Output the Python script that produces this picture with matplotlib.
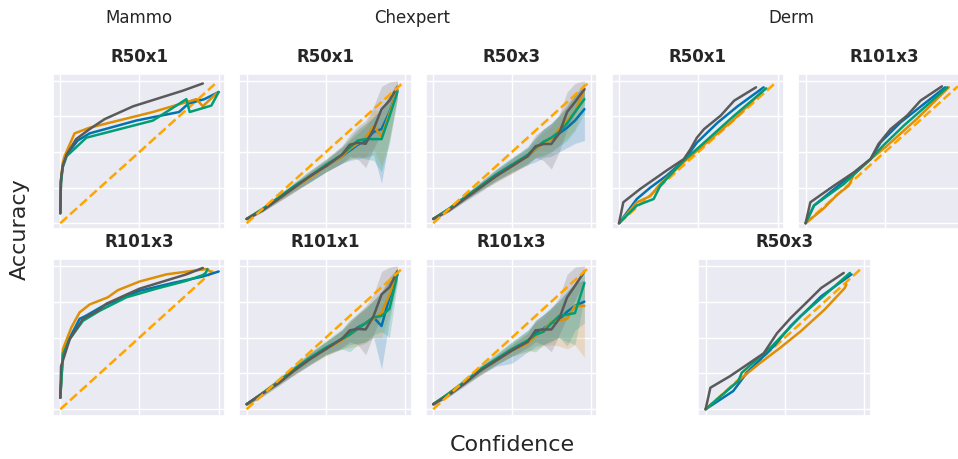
import matplotlib
matplotlib.use("Agg")
import matplotlib.pyplot as plt
import seaborn as sns

sns.set_theme(style="darkgrid")
plt.rcParams['font.family'] = ['DejaVu Sans']

# ---------------- colours ----------------
C_BLUE, C_ORANGE, C_GREEN, C_GRAY = "#0173b2", "#de8f05", "#029e73", "#5a5a5a"
C_DIAG = "#ffa500"

group_labels = ["Mammo", "Chexpert", "Derm"]

# ---------------- Mammo R50x1 ----------------
m1_gray_x = [0.0, 0.004, 0.015, 0.04, 0.10, 0.185, 0.28, 0.46, 0.775, 0.90]
m1_gray_y = [0.07, 0.30, 0.40, 0.48, 0.59, 0.66, 0.73, 0.82, 0.93, 0.98]
m1_orange_x = [0.0, 0.004, 0.015, 0.027, 0.09, 0.185, 0.585, 0.86, 0.90, 0.985]
m1_orange_y = [0.07, 0.30, 0.42, 0.47, 0.63, 0.67, 0.78, 0.87, 0.82, 0.91]
m1_blue_x = [0.0, 0.004, 0.015, 0.04, 0.11, 0.185, 0.48, 0.75, 0.81, 0.91, 1.0]
m1_blue_y = [0.07, 0.29, 0.40, 0.48, 0.58, 0.63, 0.72, 0.78, 0.84, 0.87, 0.92]
m1_green_x = [0.0, 0.004, 0.015, 0.04, 0.165, 0.585, 0.796, 0.817, 0.954, 1.0]
m1_green_y = [0.07, 0.28, 0.39, 0.47, 0.60, 0.72, 0.87, 0.78, 0.825, 0.92]
m1_diag = [0.0, 0.975]

# ---------------- Mammo R101x3 ----------------
m2_gray_x = [0.0, 0.005, 0.06, 0.143, 0.238, 0.29, 0.5, 0.796, 0.90]
m2_gray_y = [0.08, 0.30, 0.49, 0.63, 0.686, 0.735, 0.84, 0.94, 0.985]
m2_orange_x = [0.0, 0.017, 0.07, 0.122, 0.185, 0.30, 0.364, 0.5, 0.67, 0.84, 0.92, 0.95]
m2_orange_y = [0.08, 0.42, 0.57, 0.675, 0.73, 0.78, 0.83, 0.89, 0.94, 0.965, 0.977, 0.96]
m2_blue_x = [0.0, 0.017, 0.07, 0.122, 0.16, 0.27, 0.5, 0.71, 0.90, 1.0]
m2_blue_y = [0.08, 0.40, 0.52, 0.63, 0.65, 0.72, 0.825, 0.88, 0.925, 0.96]
m2_green_x = [0.0, 0.017, 0.06, 0.143, 0.248, 0.417, 0.606, 0.796, 0.90, 0.918, 0.93]
m2_green_y = [0.08, 0.38, 0.49, 0.616, 0.686, 0.78, 0.84, 0.895, 0.935, 0.95, 0.977]
m2_diag = [0.0, 0.965]

# ---------------- Chexpert R50x1 ----------------
c1_x = [0.0, 0.1, 0.2, 0.3, 0.4, 0.5, 0.6, 0.65, 0.7, 0.75, 0.8, 0.85, 0.9, 0.95]
c1_blue = [0.03, 0.09, 0.17, 0.25, 0.33, 0.40, 0.47, 0.51, 0.55, 0.58, 0.64, 0.66, 0.78, 0.93]
c1_orange = [0.03, 0.10, 0.17, 0.25, 0.32, 0.40, 0.47, 0.52, 0.56, 0.60, 0.68, 0.61, 0.77, 0.94]
c1_green = [0.03, 0.10, 0.18, 0.26, 0.33, 0.41, 0.48, 0.53, 0.58, 0.59, 0.59, 0.59, 0.75, 0.92]
c1_gray = [0.03, 0.09, 0.17, 0.25, 0.33, 0.40, 0.48, 0.55, 0.565, 0.557, 0.66, 0.80, 0.86, 0.955]
c1_blue_lo = [0.02, 0.08, 0.15, 0.22, 0.29, 0.36, 0.42, 0.44, 0.45, 0.46, 0.48, 0.28, 0.60, 0.88]
c1_blue_hi = [0.04, 0.11, 0.19, 0.28, 0.36, 0.44, 0.53, 0.58, 0.63, 0.68, 0.75, 0.80, 0.90, 0.98]
c1_orange_lo = [0.02, 0.08, 0.15, 0.22, 0.29, 0.36, 0.42, 0.45, 0.46, 0.47, 0.52, 0.40, 0.58, 0.88]
c1_orange_hi = [0.04, 0.11, 0.19, 0.28, 0.36, 0.44, 0.53, 0.59, 0.65, 0.70, 0.80, 0.78, 0.90, 0.99]
c1_green_lo = [0.02, 0.09, 0.16, 0.23, 0.29, 0.36, 0.42, 0.45, 0.47, 0.45, 0.44, 0.36, 0.56, 0.87]
c1_green_hi = [0.04, 0.11, 0.20, 0.29, 0.37, 0.45, 0.54, 0.60, 0.66, 0.70, 0.74, 0.80, 0.90, 0.97]
c1_gray_lo = [0.02, 0.08, 0.15, 0.22, 0.29, 0.36, 0.42, 0.47, 0.45, 0.39, 0.52, 0.64, 0.74, 0.91]
c1_gray_hi = [0.04, 0.11, 0.19, 0.28, 0.37, 0.45, 0.54, 0.62, 0.68, 0.72, 0.82, 0.96, 0.99, 1.00]
c1_diag = [0.0, 0.975]

# ---------------- Chexpert R50x3 ----------------
c2_x = [0.0, 0.1, 0.2, 0.3, 0.4, 0.5, 0.6, 0.65, 0.7, 0.75, 0.8, 0.85, 0.9, 0.96]
c2_blue = [0.03, 0.10, 0.18, 0.26, 0.34, 0.41, 0.47, 0.52, 0.57, 0.59, 0.63, 0.67, 0.72, 0.80]
c2_orange = [0.03, 0.10, 0.18, 0.26, 0.33, 0.40, 0.47, 0.52, 0.56, 0.59, 0.66, 0.72, 0.78, 0.94]
c2_green = [0.03, 0.10, 0.18, 0.26, 0.34, 0.41, 0.48, 0.53, 0.57, 0.60, 0.64, 0.70, 0.78, 0.87]
c2_gray = [0.03, 0.09, 0.17, 0.25, 0.33, 0.40, 0.47, 0.54, 0.555, 0.556, 0.63, 0.78, 0.85, 0.94]
c2_blue_lo = [0.02, 0.08, 0.16, 0.23, 0.30, 0.36, 0.41, 0.43, 0.46, 0.47, 0.50, 0.53, 0.56, 0.58]
c2_blue_hi = [0.04, 0.12, 0.20, 0.29, 0.38, 0.46, 0.53, 0.60, 0.66, 0.70, 0.76, 0.82, 0.90, 0.98]
c2_orange_lo = [0.02, 0.08, 0.16, 0.23, 0.29, 0.35, 0.42, 0.46, 0.48, 0.50, 0.55, 0.60, 0.66, 0.85]
c2_orange_hi = [0.04, 0.12, 0.20, 0.29, 0.37, 0.45, 0.52, 0.58, 0.64, 0.68, 0.76, 0.84, 0.90, 0.99]
c2_green_lo = [0.02, 0.09, 0.16, 0.23, 0.30, 0.36, 0.42, 0.46, 0.47, 0.50, 0.54, 0.58, 0.65, 0.77]
c2_green_hi = [0.04, 0.12, 0.20, 0.29, 0.38, 0.46, 0.54, 0.60, 0.66, 0.70, 0.75, 0.82, 0.90, 0.96]
c2_gray_lo = [0.02, 0.08, 0.15, 0.22, 0.29, 0.35, 0.41, 0.46, 0.44, 0.38, 0.50, 0.66, 0.76, 0.88]
c2_gray_hi = [0.04, 0.11, 0.19, 0.28, 0.37, 0.45, 0.53, 0.62, 0.66, 0.70, 0.76, 0.92, 0.98, 1.00]
c2_diag = [0.0, 0.99]

# ---------------- Chexpert R101x1 ----------------
c3_x = [0.0, 0.1, 0.2, 0.3, 0.4, 0.5, 0.6, 0.65, 0.7, 0.75, 0.8, 0.85, 0.9, 0.95]
c3_blue = [0.035, 0.11, 0.19, 0.27, 0.35, 0.42, 0.49, 0.53, 0.57, 0.60, 0.64, 0.58, 0.78, 0.94]
c3_orange = [0.035, 0.11, 0.19, 0.27, 0.35, 0.42, 0.48, 0.52, 0.56, 0.60, 0.63, 0.67, 0.80, 0.95]
c3_green = [0.035, 0.11, 0.19, 0.28, 0.36, 0.43, 0.49, 0.52, 0.56, 0.60, 0.64, 0.65, 0.70, 0.94]
c3_gray = [0.035, 0.11, 0.18, 0.27, 0.35, 0.42, 0.49, 0.55, 0.56, 0.556, 0.65, 0.80, 0.85, 0.96]
c3_blue_lo = [0.025, 0.09, 0.17, 0.24, 0.31, 0.38, 0.42, 0.45, 0.46, 0.47, 0.50, 0.28, 0.62, 0.90]
c3_blue_hi = [0.045, 0.13, 0.21, 0.30, 0.39, 0.47, 0.55, 0.60, 0.66, 0.70, 0.76, 0.82, 0.92, 0.98]
c3_orange_lo = [0.025, 0.09, 0.17, 0.24, 0.31, 0.37, 0.42, 0.43, 0.44, 0.46, 0.50, 0.50, 0.66, 0.90]
c3_orange_hi = [0.045, 0.13, 0.21, 0.30, 0.39, 0.47, 0.55, 0.61, 0.66, 0.71, 0.76, 0.82, 0.92, 0.99]
c3_green_lo = [0.025, 0.10, 0.17, 0.25, 0.32, 0.38, 0.42, 0.40, 0.45, 0.47, 0.52, 0.54, 0.50, 0.88]
c3_green_hi = [0.045, 0.13, 0.22, 0.31, 0.40, 0.48, 0.56, 0.62, 0.66, 0.71, 0.76, 0.80, 0.90, 0.98]
c3_gray_lo = [0.025, 0.09, 0.16, 0.24, 0.31, 0.38, 0.43, 0.47, 0.45, 0.38, 0.52, 0.66, 0.76, 0.92]
c3_gray_hi = [0.045, 0.13, 0.21, 0.30, 0.39, 0.47, 0.55, 0.62, 0.67, 0.72, 0.80, 0.96, 0.99, 1.00]
c3_diag = [0.0, 0.975]

# ---------------- Chexpert R101x3 ----------------
c4_x = [0.0, 0.1, 0.2, 0.3, 0.4, 0.5, 0.6, 0.65, 0.7, 0.75, 0.8, 0.85, 0.9, 0.96]
c4_blue = [0.035, 0.11, 0.19, 0.27, 0.34, 0.41, 0.47, 0.53, 0.56, 0.60, 0.625, 0.68, 0.72, 0.75]
c4_orange = [0.035, 0.11, 0.19, 0.27, 0.34, 0.41, 0.46, 0.51, 0.55, 0.61, 0.62, 0.63, 0.72, 0.72]
c4_green = [0.035, 0.11, 0.19, 0.28, 0.35, 0.42, 0.48, 0.52, 0.54, 0.60, 0.65, 0.66, 0.67, 0.88]
c4_gray = [0.035, 0.10, 0.18, 0.27, 0.34, 0.41, 0.47, 0.55, 0.556, 0.556, 0.63, 0.78, 0.86, 0.96]
c4_blue_lo = [0.025, 0.09, 0.17, 0.24, 0.30, 0.32, 0.40, 0.44, 0.45, 0.47, 0.50, 0.44, 0.55, 0.60]
c4_blue_hi = [0.045, 0.13, 0.21, 0.30, 0.38, 0.47, 0.55, 0.61, 0.66, 0.71, 0.76, 0.82, 0.88, 0.90]
c4_orange_lo = [0.025, 0.09, 0.17, 0.24, 0.31, 0.37, 0.40, 0.42, 0.44, 0.45, 0.44, 0.42, 0.45, 0.36]
c4_orange_hi = [0.045, 0.13, 0.21, 0.30, 0.38, 0.46, 0.54, 0.60, 0.64, 0.70, 0.74, 0.80, 0.88, 0.90]
c4_green_lo = [0.025, 0.09, 0.17, 0.25, 0.31, 0.37, 0.41, 0.40, 0.45, 0.48, 0.50, 0.47, 0.45, 0.78]
c4_green_hi = [0.045, 0.13, 0.22, 0.31, 0.39, 0.47, 0.55, 0.62, 0.66, 0.71, 0.76, 0.82, 0.88, 0.96]
c4_gray_lo = [0.025, 0.09, 0.16, 0.24, 0.31, 0.37, 0.43, 0.47, 0.45, 0.40, 0.52, 0.64, 0.76, 0.90]
c4_gray_hi = [0.045, 0.12, 0.20, 0.29, 0.37, 0.45, 0.53, 0.62, 0.66, 0.70, 0.78, 0.94, 0.99, 1.00]
c4_diag = [0.0, 0.99]

# ---------------- Derm R50x1 ----------------
d1_gray_x = [0, 0.027, 0.133, 0.30, 0.408, 0.45, 0.49, 0.535, 0.64, 0.725, 0.862]
d1_gray_y = [0, 0.147, 0.24, 0.37, 0.45, 0.52, 0.60, 0.66, 0.755, 0.86, 0.953]
d1_blue_x = [0, 0.112, 0.197, 0.30, 0.408, 0.49, 0.62, 0.746, 0.91]
d1_blue_y = [0, 0.17, 0.25, 0.334, 0.44, 0.565, 0.705, 0.82, 0.953]
d1_green_x = [0, 0.112, 0.218, 0.26, 0.408, 0.514, 0.725, 0.926]
d1_green_y = [0, 0.124, 0.17, 0.264, 0.44, 0.544, 0.755, 0.946]
d1_orange_x = [0, 0.112, 0.197, 0.25, 0.408, 0.514, 0.725, 0.915]
d1_orange_y = [0, 0.147, 0.19, 0.264, 0.43, 0.53, 0.73, 0.94]
d1_diag = [0.0, 0.983]

# ---------------- Derm R101x3 ----------------
d2_gray_x = [0, 0.03, 0.18, 0.305, 0.41, 0.46, 0.536, 0.64, 0.725, 0.86]
d2_gray_y = [0, 0.147, 0.264, 0.357, 0.45, 0.556, 0.66, 0.755, 0.86, 0.96]
d2_blue_x = [0, 0.053, 0.284, 0.41, 0.473, 0.6, 0.746, 0.88]
d2_blue_y = [0, 0.124, 0.334, 0.45, 0.567, 0.708, 0.836, 0.953]
d2_green_x = [0, 0.053, 0.242, 0.41, 0.494, 0.62, 0.893]
d2_green_y = [0, 0.124, 0.276, 0.45, 0.55, 0.685, 0.953]
d2_orange_x = [0, 0.11, 0.2, 0.273, 0.305, 0.41, 0.5, 0.7, 0.903]
d2_orange_y = [0, 0.10, 0.2, 0.264, 0.346, 0.45, 0.53, 0.73, 0.953]
d2_diag = [0.0, 0.96]

# ---------------- Derm R50x3 ----------------
d3_gray_x = [0, 0.03, 0.153, 0.26, 0.366, 0.45, 0.536, 0.632, 0.728, 0.87]
d3_gray_y = [0, 0.15, 0.23, 0.31, 0.39, 0.53, 0.636, 0.74, 0.845, 0.95]
d3_blue_x = [0, 0.174, 0.26, 0.43, 0.536, 0.728, 0.919]
d3_blue_y = [0, 0.127, 0.255, 0.44, 0.58, 0.787, 0.94]
d3_green_x = [0, 0.206, 0.228, 0.41, 0.6, 0.909]
d3_green_y = [0, 0.197, 0.255, 0.43, 0.65, 0.95]
d3_orange_x = [0, 0.217, 0.345, 0.472, 0.6, 0.749, 0.877, 0.887]
d3_orange_y = [0, 0.21, 0.324, 0.43, 0.544, 0.694, 0.845, 0.87]
d3_diag = [0.0, 0.99]

# ---------------- figure ----------------
W, H = 958, 460
fig = plt.figure(figsize=(W / 100, H / 100), dpi=100)


def add_ax(l, t, r, b, ylim):
    ax = fig.add_axes([l / W, 1 - b / H, (r - l) / W, (b - t) / H])
    ax.set_xlim(-0.046, 1.04)
    ax.set_ylim(*ylim)
    ax.set_xticks([0, 0.5, 1.0])
    ax.set_yticks([0, 0.25, 0.5, 0.75, 1.0])
    ax.set_xticklabels([])
    ax.set_yticklabels([])
    ax.tick_params(length=0)
    return ax


TOP = (74.5, 229.5)
BOT = (260, 417)
YL_TOP = (-0.037, 1.05)
YL_BOT = (-0.047, 1.047)
LW = 1.8


def title(ax, s):
    ax.set_title(s, fontsize=12, fontweight="bold", pad=9)


def simple_panel(ax, series, diag):
    ax.plot(diag, diag, color=C_DIAG, ls="--", lw=LW, zorder=3)
    for xs, ys, c in series:
        ax.plot(xs, ys, color=c, lw=LW, zorder=4)


def band_panel(ax, x, series, diag):
    for ys, lo, hi, c in series:
        ax.fill_between(x, lo, hi, color=c, alpha=0.2, lw=0, zorder=2)
    for ys, lo, hi, c in series:
        ax.plot(x, ys, color=c, lw=LW, zorder=4)
    ax.plot(diag, diag, color=C_DIAG, ls="--", lw=LW, zorder=5)


# Mammo R50x1
ax = add_ax(53, TOP[0], 225, TOP[1], YL_TOP)
title(ax, "R50x1")
simple_panel(ax, [(m1_blue_x, m1_blue_y, C_BLUE), (m1_orange_x, m1_orange_y, C_ORANGE),
                  (m1_green_x, m1_green_y, C_GREEN), (m1_gray_x, m1_gray_y, C_GRAY)], m1_diag)

# Chexpert R50x1
ax = add_ax(239.3, TOP[0], 411.7, TOP[1], YL_TOP)
title(ax, "R50x1")
band_panel(ax, c1_x, [(c1_blue, c1_blue_lo, c1_blue_hi, C_BLUE),
                      (c1_orange, c1_orange_lo, c1_orange_hi, C_ORANGE),
                      (c1_green, c1_green_lo, c1_green_hi, C_GREEN),
                      (c1_gray, c1_gray_lo, c1_gray_hi, C_GRAY)], c1_diag)

# Chexpert R50x3
ax = add_ax(426, TOP[0], 597, TOP[1], YL_TOP)
title(ax, "R50x3")
band_panel(ax, c2_x, [(c2_blue, c2_blue_lo, c2_blue_hi, C_BLUE),
                      (c2_orange, c2_orange_lo, c2_orange_hi, C_ORANGE),
                      (c2_green, c2_green_lo, c2_green_hi, C_GREEN),
                      (c2_gray, c2_gray_lo, c2_gray_hi, C_GRAY)], c2_diag)

# Derm R50x1
ax = add_ax(611.7, TOP[0], 784.3, TOP[1], YL_TOP)
title(ax, "R50x1")
simple_panel(ax, [(d1_blue_x, d1_blue_y, C_BLUE), (d1_orange_x, d1_orange_y, C_ORANGE),
                  (d1_green_x, d1_green_y, C_GREEN), (d1_gray_x, d1_gray_y, C_GRAY)], d1_diag)

# Derm R101x3 (runs past right edge of canvas)
ax = add_ax(798.3, TOP[0], 970.5, TOP[1], YL_TOP)
title(ax, "R101x3")
simple_panel(ax, [(d2_blue_x, d2_blue_y, C_BLUE), (d2_orange_x, d2_orange_y, C_ORANGE),
                  (d2_green_x, d2_green_y, C_GREEN), (d2_gray_x, d2_gray_y, C_GRAY)], d2_diag)

# Mammo R101x3
ax = add_ax(53, BOT[0], 225, BOT[1], YL_BOT)
title(ax, "R101x3")
simple_panel(ax, [(m2_blue_x, m2_blue_y, C_BLUE), (m2_orange_x, m2_orange_y, C_ORANGE),
                  (m2_green_x, m2_green_y, C_GREEN), (m2_gray_x, m2_gray_y, C_GRAY)], m2_diag)

# Chexpert R101x1
ax = add_ax(239.3, BOT[0], 411.7, BOT[1], YL_BOT)
title(ax, "R101x1")
band_panel(ax, c3_x, [(c3_blue, c3_blue_lo, c3_blue_hi, C_BLUE),
                      (c3_orange, c3_orange_lo, c3_orange_hi, C_ORANGE),
                      (c3_green, c3_green_lo, c3_green_hi, C_GREEN),
                      (c3_gray, c3_gray_lo, c3_gray_hi, C_GRAY)], c3_diag)

# Chexpert R101x3
ax = add_ax(426, BOT[0], 597, BOT[1], YL_BOT)
title(ax, "R101x3")
band_panel(ax, c4_x, [(c4_blue, c4_blue_lo, c4_blue_hi, C_BLUE),
                      (c4_orange, c4_orange_lo, c4_orange_hi, C_ORANGE),
                      (c4_green, c4_green_lo, c4_green_hi, C_GREEN),
                      (c4_gray, c4_gray_lo, c4_gray_hi, C_GRAY)], c4_diag)

# Derm R50x3
ax = add_ax(698.3, BOT[0], 870.7, BOT[1], YL_BOT)
title(ax, "R50x3")
simple_panel(ax, [(d3_blue_x, d3_blue_y, C_BLUE), (d3_orange_x, d3_orange_y, C_ORANGE),
                  (d3_green_x, d3_green_y, C_GREEN), (d3_gray_x, d3_gray_y, C_GRAY)], d3_diag)

# group labels
for lab, xc in zip(group_labels, [139, 412, 791]):
    fig.text(xc / W, 1 - 18 / H, lab, ha="center", va="center", fontsize=12, color="#262626")

fig.text(20 / W, 1 - 229 / H, "Accuracy", rotation=90, ha="center", va="center",
         fontsize=16, color="#262626")
fig.text(512 / W, 1 - 445 / H, "Confidence", ha="center", va="center",
         fontsize=16, color="#262626")

fig.savefig("out.png", dpi=100)
